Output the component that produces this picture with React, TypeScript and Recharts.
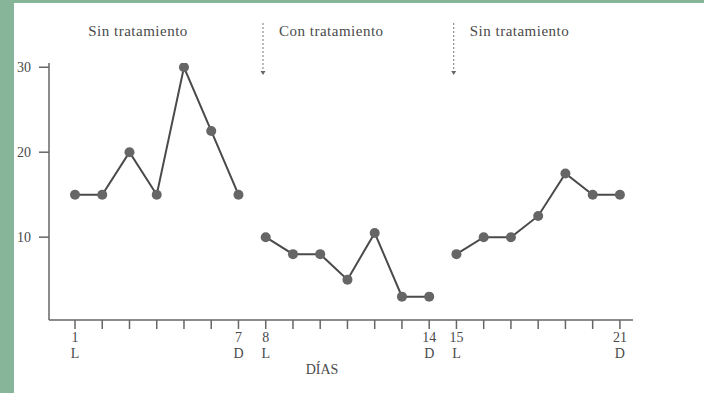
import { LineChart, Line, XAxis, YAxis, ReferenceLine } from "recharts";

const days = [1, 2, 3, 4, 5, 6, 7, 8, 9, 10, 11, 12, 13, 14, 15, 16, 17, 18, 19, 20, 21];
const sinTratamiento1 = [15, 15, 20, 15, 30, 22.5, 15];
const conTratamiento = [10, 8, 8, 5, 10.5, 3, 3];
const sinTratamiento2 = [8, 10, 10, 12.5, 17.5, 15, 15];

const labeledDays = [1, 7, 8, 14, 15, 21];
const dayLetters = ["L", "D", "L", "D", "L", "D"];
const yTicks = [10, 20, 30];

const phases = [
  { label: "Sin tratamiento", start: 1, arrow: false },
  { label: "Con tratamiento", start: 8, arrow: true },
  { label: "Sin tratamiento", start: 15, arrow: true },
];

const data = days.map((day, i) => ({
  day,
  a: i < 7 ? sinTratamiento1[i] : null,
  b: i >= 7 && i < 14 ? conTratamiento[i - 7] : null,
  c: i >= 14 ? sinTratamiento2[i - 14] : null,
}));

const ink = "#4a4a4a";
const serif = "'Liberation Serif', 'DejaVu Serif', serif";

function DayTick({ x, y, payload }: any) {
  const idx = labeledDays.indexOf(payload.value);
  if (idx < 0) return null;
  return (
    <g>
      <text x={x} y={y + 11} textAnchor="middle" fill={ink} fontSize={14} fontFamily={serif}>
        {payload.value}
      </text>
      <text x={x} y={y + 27} textAnchor="middle" fill={ink} fontSize={14} fontFamily={serif}>
        {dayLetters[idx]}
      </text>
    </g>
  );
}

function phaseShape(label: string, arrow: boolean) {
  return (props: any) => {
    const x = props.x1;
    const top = Math.min(props.y1, props.y2);
    return (
      <g>
        {arrow && (
          <>
            <line x1={x} y1={top - 40} x2={x} y2={top + 9} stroke="#777" strokeWidth={1} strokeDasharray="2 2" />
            <path d={`M${x - 2.5},${top + 8} L${x + 2.5},${top + 8} L${x},${top + 12} Z`} fill="#666" />
          </>
        )}
        <text x={x + 16} y={top - 27} fill={ink} fontSize={15} letterSpacing={0.5} fontFamily={serif}>
          {label}
        </text>
      </g>
    );
  };
}

const dot = { r: 5, fill: "#666", stroke: "none" };

export default function App() {
  return (
    <div style={{ position: "fixed", left: 0, top: 0, width: 704, height: 393, background: "#fff", overflow: "hidden" }}>
      <LineChart width={704} height={393} data={data} margin={{ top: 63, right: 71, bottom: 17, left: 0 }}>
        <XAxis
          dataKey="day"
          type="number"
          domain={[0.046, 21.48]}
          allowDataOverflow
          ticks={days}
          interval={0}
          tick={<DayTick />}
          tickSize={9}
          height={56}
          stroke="#666"
          strokeWidth={1.5}
          label={(p: any) => (
            <text x={322} y={p.viewBox.y + p.viewBox.height - 2} textAnchor="middle" fill={ink} fontSize={14} fontFamily={serif}>
              DÍAS
            </text>
          )}
        />
        <YAxis
          type="number"
          domain={[0.25, 30.5]}
          allowDataOverflow
          ticks={yTicks}
          width={49}
          tickSize={10}
          tickMargin={8}
          stroke="#666"
          strokeWidth={1.5}
          tick={{ fill: ink, fontSize: 14, fontFamily: serif }}
        />
        {phases.map((p, i) => (
          <ReferenceLine key={i} x={p.start - 0.1} stroke="none" ifOverflow="visible" shape={phaseShape(p.label, p.arrow)} />
        ))}
        <Line type="linear" dataKey="a" stroke={ink} strokeWidth={2} dot={dot} isAnimationActive={false} />
        <Line type="linear" dataKey="b" stroke={ink} strokeWidth={2} dot={dot} isAnimationActive={false} />
        <Line type="linear" dataKey="c" stroke={ink} strokeWidth={2} dot={dot} isAnimationActive={false} />
      </LineChart>
      <div style={{ position: "absolute", left: 0, top: 0, width: 14, height: 393, background: "#86b59a" }} />
      <div style={{ position: "absolute", left: 0, top: 0, width: 704, height: 3, background: "#86b59a" }} />
    </div>
  );
}
